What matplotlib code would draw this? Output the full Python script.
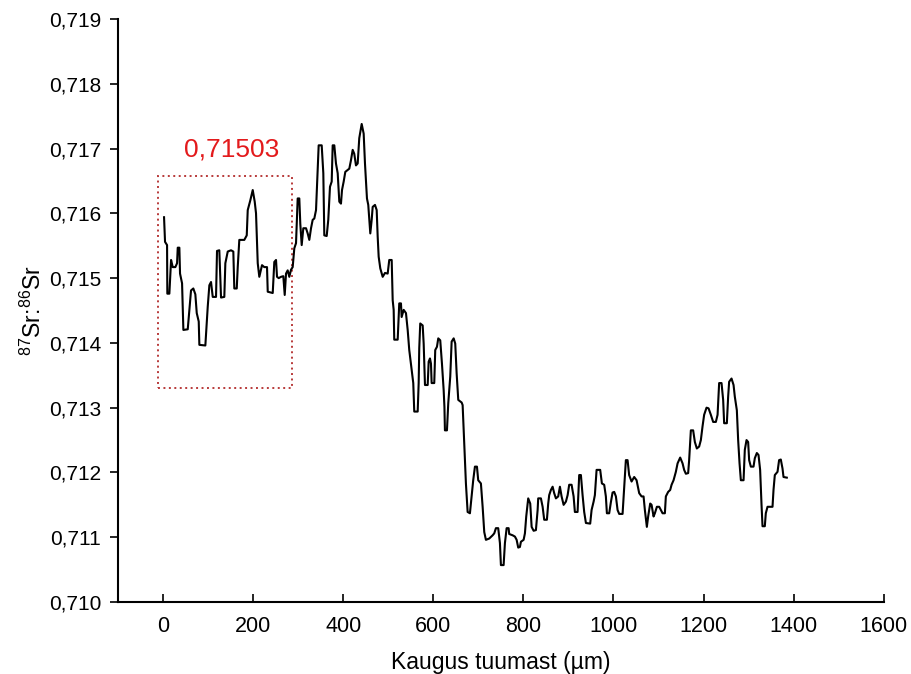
import matplotlib
matplotlib.use("Agg")
import matplotlib.pyplot as plt
from matplotlib.ticker import FuncFormatter
from matplotlib.patches import Rectangle

plt.rcParams['font.family'] = ['Liberation Sans', 'DejaVu Sans']

# Distance from the nucleus (µm)
distance = [
    2.2, 4.4, 8.9, 9.5, 14.0, 17.8, 21.5, 27.3, 31.1, 32.6, 36.2, 37.7, 42.2, 45.1, 54.8,
    62.1, 67.2, 71.7, 74.8, 79.2, 80.6, 93.9, 99.2, 102.8, 106.5, 110.3, 117.6, 119.8, 124.9,
    128.7, 136.0, 138.3, 143.6, 150.9, 156.0, 158.2, 163.6, 165.8, 169.3, 180.4, 185.8, 188.0,
    193.7, 199.1, 203.5, 206.4, 210.2, 213.7, 219.7, 224.8, 230.8, 232.4, 243.5, 247.0, 250.8,
    253.0, 256.8, 261.9, 267.0, 270.1, 273.0, 276.7, 280.3, 284.1, 287.8, 291.4, 295.2, 298.9,
    302.5, 304.7, 307.8, 311.4, 317.4, 321.1, 324.7, 328.5, 332.2, 335.8, 339.6, 343.3, 345.5,
    352.2, 355.8, 358.0, 363.3, 366.8, 370.6, 374.4, 376.6, 380.2, 383.9, 387.7, 391.3, 395.0,
    397.3, 401.0, 404.6, 409.9, 413.5, 417.2, 421.0, 424.5, 428.3, 432.1, 435.6, 441.0, 445.4,
    448.3, 452.7, 455.6, 460.1, 463.2, 465.4, 470.5, 474.3, 476.5, 478.7, 482.3, 487.6, 492.7,
    498.7, 502.2, 507.6, 509.8, 512.0, 513.3, 520.9, 524.4, 528.2, 529.7, 534.2, 539.3, 543.1,
    546.6, 551.9, 555.5, 557.7, 565.3, 567.5, 568.8, 571.0, 576.4, 578.6, 581.5, 587.5, 589.7,
    592.6, 594.8, 596.3, 602.1, 604.3, 608.1, 611.0, 615.4, 619.2, 623.0, 624.7, 625.8, 630.3,
    633.2, 637.6, 640.7, 645.2, 648.7, 651.8, 655.4, 662.9, 665.1, 668.7, 672.4, 676.2, 681.3,
    685.1, 688.6, 692.4, 696.9, 699.7, 705.7, 709.5, 713.1, 716.8, 724.2, 731.7, 735.3, 739.0,
    744.1, 747.9, 750.1, 756.1, 759.0, 762.8, 767.2, 768.5, 776.1, 781.2, 785.0, 788.5, 792.3,
    794.5, 800.5, 803.4, 806.3, 810.7, 815.2, 818.3, 822.7, 827.8, 831.6, 832.9, 838.9, 842.7,
    846.2, 852.2, 855.1, 857.3, 861.1, 864.9, 868.4, 872.2, 877.3, 881.1, 884.8, 889.3, 894.4,
    898.2, 901.7, 907.0, 911.5, 914.3, 920.3, 923.9, 927.7, 931.4, 935.0, 938.8, 948.3, 951.4,
    955.9, 958.7, 962.5, 970.5, 974.3, 979.4, 983.1, 985.4, 990.5, 994.2, 998.0, 1001.6, 1005.4,
    1009.1, 1012.7, 1020.2, 1023.8, 1027.5, 1031.3, 1034.8, 1040.2, 1046.0, 1051.3, 1057.1,
    1062.4, 1066.8, 1069.7, 1074.1, 1077.0, 1081.5, 1084.6, 1089.0, 1091.9, 1096.4, 1101.5,
    1105.2, 1109.0, 1114.1, 1116.3, 1121.4, 1125.9, 1129.0, 1133.4, 1138.5, 1142.3, 1148.1,
    1153.4, 1156.9, 1160.7, 1165.8, 1168.0, 1171.8, 1176.9, 1180.7, 1185.1, 1190.2, 1194.0,
    1197.7, 1201.3, 1206.6, 1211.1, 1216.2, 1221.3, 1227.3, 1231.1, 1234.6, 1239.9, 1243.5,
    1245.7, 1251.7, 1254.6, 1256.8, 1262.1, 1266.6, 1269.4, 1273.9, 1276.8, 1279.9, 1282.8,
    1288.8, 1291.6, 1295.4, 1299.0, 1301.2, 1305.0, 1310.9, 1313.8, 1318.3, 1322.0, 1325.6,
    1328.7, 1330.9, 1336.0, 1338.2, 1342.0, 1353.1, 1355.3, 1358.2, 1364.2, 1367.7, 1371.5,
    1375.3, 1377.5, 1384.8,
]

# 87Sr/86Sr ratio along the transect
ratio = [
    0.71594, 0.71556, 0.71551, 0.71476, 0.71476, 0.71528, 0.71517, 0.71517, 0.71523, 0.71547,
    0.71547, 0.71507, 0.71492, 0.71420, 0.71421, 0.71481, 0.71484, 0.71475, 0.71446, 0.71433,
    0.71397, 0.71396, 0.71456, 0.71489, 0.71494, 0.71471, 0.71471, 0.71542, 0.71543, 0.71470,
    0.71471, 0.71523, 0.71541, 0.71543, 0.71541, 0.71484, 0.71484, 0.71517, 0.71559, 0.71559,
    0.71566, 0.71605, 0.71620, 0.71636, 0.71618, 0.71600, 0.71523, 0.71502, 0.71520, 0.71517,
    0.71517, 0.71479, 0.71477, 0.71525, 0.71528, 0.71502, 0.71500, 0.71502, 0.71503, 0.71474,
    0.71507, 0.71512, 0.71502, 0.71513, 0.71517, 0.71546, 0.71554, 0.71623, 0.71623, 0.71584,
    0.71551, 0.71577, 0.71577, 0.71569, 0.71559, 0.71577, 0.71590, 0.71592, 0.71605, 0.71667,
    0.71705, 0.71705, 0.71662, 0.71566, 0.71565, 0.71590, 0.71641, 0.71649, 0.71705, 0.71705,
    0.71677, 0.71662, 0.71618, 0.71615, 0.71636, 0.71649, 0.71664, 0.71667, 0.71669, 0.71682,
    0.71698, 0.71692, 0.71674, 0.71677, 0.71716, 0.71738, 0.71723, 0.71677, 0.71623, 0.71613,
    0.71569, 0.71590, 0.71610, 0.71613, 0.71605, 0.71564, 0.71533, 0.71515, 0.71502, 0.71508,
    0.71507, 0.71528, 0.71528, 0.71466, 0.71451, 0.71405, 0.71405, 0.71461, 0.71461, 0.71440,
    0.71451, 0.71446, 0.71420, 0.71389, 0.71358, 0.71338, 0.71294, 0.71294, 0.71338, 0.71392,
    0.71430, 0.71427, 0.71399, 0.71335, 0.71335, 0.71371, 0.71376, 0.71368, 0.71338, 0.71338,
    0.71389, 0.71394, 0.71407, 0.71404, 0.71368, 0.71327, 0.71301, 0.71265, 0.71265, 0.71307,
    0.71348, 0.71402, 0.71407, 0.71399, 0.71353, 0.71312, 0.71308, 0.71304, 0.71245, 0.71183,
    0.71139, 0.71137, 0.71163, 0.71188, 0.71209, 0.71209, 0.71188, 0.71183, 0.71147, 0.71108,
    0.71096, 0.71098, 0.71103, 0.71106, 0.71114, 0.71114, 0.71091, 0.71057, 0.71057, 0.71091,
    0.71114, 0.71114, 0.71105, 0.71103, 0.71101, 0.71096, 0.71084, 0.71085, 0.71093, 0.71096,
    0.71106, 0.71132, 0.71160, 0.71152, 0.71116, 0.71110, 0.71111, 0.71142, 0.71160, 0.71160,
    0.71147, 0.71127, 0.71127, 0.71152, 0.71165, 0.71173, 0.71178, 0.71168, 0.71160, 0.71163,
    0.71178, 0.71163, 0.71150, 0.71155, 0.71165, 0.71181, 0.71181, 0.71163, 0.71139, 0.71139,
    0.71196, 0.71196, 0.71165, 0.71139, 0.71122, 0.71121, 0.71142, 0.71155, 0.71165, 0.71204,
    0.71204, 0.71183, 0.71181, 0.71163, 0.71137, 0.71137, 0.71154, 0.71169, 0.71170, 0.71163,
    0.71142, 0.71136, 0.71136, 0.71178, 0.71219, 0.71219, 0.71196, 0.71186, 0.71193, 0.71188,
    0.71168, 0.71163, 0.71163, 0.71142, 0.71116, 0.71132, 0.71152, 0.71150, 0.71132, 0.71137,
    0.71147, 0.71147, 0.71142, 0.71137, 0.71137, 0.71163, 0.71170, 0.71173, 0.71181, 0.71188,
    0.71201, 0.71214, 0.71223, 0.71214, 0.71204, 0.71198, 0.71199, 0.71219, 0.71265, 0.71265,
    0.71247, 0.71237, 0.71240, 0.71250, 0.71271, 0.71289, 0.71300, 0.71299, 0.71289, 0.71278,
    0.71278, 0.71289, 0.71338, 0.71338, 0.71312, 0.71276, 0.71276, 0.71317, 0.71340, 0.71345,
    0.71335, 0.71317, 0.71296, 0.71250, 0.71214, 0.71188, 0.71188, 0.71235, 0.71250, 0.71247,
    0.71219, 0.71209, 0.71209, 0.71222, 0.71230, 0.71227, 0.71204, 0.71150, 0.71117, 0.71117,
    0.71137, 0.71147, 0.71147, 0.71173, 0.71196, 0.71201, 0.71219, 0.71220, 0.71206, 0.71193,
    0.71192,
]

# Core zone used for the mean value
core_x = [-12, 287]
core_y = [0.71330, 0.71657]
core_mean = 0.71503

x_ticks = [0, 200, 400, 600, 800, 1000, 1200, 1400, 1600]
y_ticks = [0.710, 0.711, 0.712, 0.713, 0.714, 0.715, 0.716, 0.717, 0.718, 0.719]

fig = plt.figure(figsize=(9.12, 6.74), dpi=100)
ax = fig.add_axes([0.1294, 0.1068, 0.8396, 0.865])

ax.plot(distance, ratio, color='black', linewidth=1.5, solid_joinstyle='round')

ax.add_patch(Rectangle((core_x[0], core_y[0]), core_x[1] - core_x[0], core_y[1] - core_y[0],
                       fill=False, edgecolor='#b83a3a', linestyle=(0, (1, 1.8)), linewidth=1.4))
ax.text(153, 0.71698, f"{core_mean:.5f}".replace('.', ','),
        color='#e31a1c', fontsize=19, ha='center', va='center')

ax.set_xlim(-100, 1600)
ax.set_ylim(0.710, 0.719)
ax.set_xticks(x_ticks)
ax.set_yticks(y_ticks)
ax.yaxis.set_major_formatter(FuncFormatter(lambda v, p: f"{v:.3f}".replace('.', ',')))

for side in ('top', 'right'):
    ax.spines[side].set_visible(False)
for side in ('left', 'bottom'):
    ax.spines[side].set_linewidth(1.5)

ax.tick_params(axis='x', direction='in', length=6, width=1.2, labelsize=15.5, pad=10)
ax.tick_params(axis='y', direction='out', length=6, width=1.2, labelsize=15, pad=6)

ax.set_xlabel("Kaugus tuumast (µm)", fontsize=16.5, labelpad=10)
ax.set_ylabel(r"$\mathregular{^{87}}$Sr:$\mathregular{^{86}}$Sr", fontsize=16.5, labelpad=2)

fig.savefig("out.png", dpi=100)
